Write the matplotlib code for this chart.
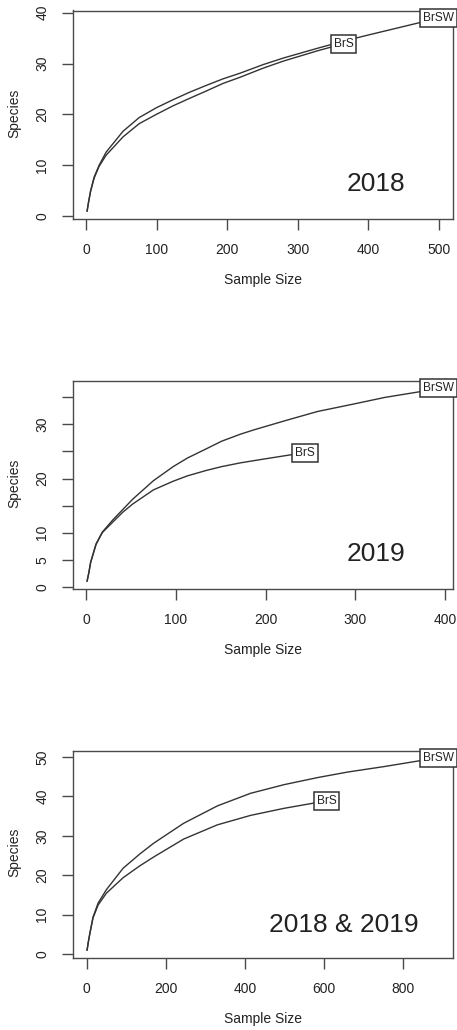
import matplotlib
matplotlib.use("Agg")
import matplotlib.pyplot as plt

plt.rcParams['font.family'] = ['Liberation Sans', 'DejaVu Sans']

# ---------------- data ----------------
# 2018
x18_brsw = [1, 3, 6, 11, 18, 28, 52, 75, 99, 123, 147, 170, 194, 218, 251, 280, 328, 365, 400, 430, 472, 500]
s18_brsw = [1, 2.7, 5.0, 7.7, 10.0, 12.6, 16.7, 19.4, 21.3, 22.9, 24.4, 25.7, 27.0, 28.1, 29.8, 31.1, 33.0, 34.4, 35.6, 36.6, 38.0, 38.9]
x18_brs = [1, 3, 6, 11, 18, 28, 52, 75, 99, 123, 147, 170, 194, 218, 251, 280, 328, 365]
s18_brs = [1, 2.7, 4.9, 7.5, 9.8, 12.0, 15.6, 18.2, 20.0, 21.7, 23.2, 24.6, 26.1, 27.3, 29.1, 30.5, 32.5, 33.9]

# 2019
x19_brsw = [1, 3, 5, 11, 18, 30, 41, 52, 75, 97, 113, 134, 151, 172, 187, 224, 258, 296, 333, 370, 393]
s19_brsw = [1, 2.6, 4.5, 7.9, 10.1, 12.4, 14.3, 16.2, 19.6, 22.2, 23.8, 25.5, 26.9, 28.2, 29.0, 30.8, 32.4, 33.7, 35.0, 36.0, 36.7]
x19_brs = [1, 3, 5, 11, 18, 30, 41, 52, 75, 97, 113, 134, 151, 172, 198, 221, 244]
s19_brs = [1, 2.6, 4.5, 7.8, 10.0, 12.0, 13.8, 15.3, 17.9, 19.5, 20.5, 21.5, 22.2, 22.9, 23.6, 24.2, 24.8]

# 2018 & 2019
xall_brsw = [1, 4, 8, 16, 29, 50, 92, 134, 170, 245, 330, 414, 499, 584, 660, 753, 838, 889]
sall_brsw = [1, 3.0, 5.3, 9.4, 13.0, 16.4, 21.8, 25.4, 28.2, 33.2, 37.6, 40.8, 43.0, 44.8, 46.2, 47.6, 49.0, 49.7]
xall_brs = [1, 4, 8, 16, 29, 50, 92, 134, 170, 245, 330, 414, 499, 567, 606]
sall_brs = [1, 3.0, 5.2, 9.2, 12.5, 15.5, 19.4, 22.4, 24.7, 29.2, 32.8, 35.2, 37.0, 38.2, 38.9]

site_labels = ["BrSW", "BrS"]
panel_titles = ["2018", "2019", "2018 & 2019"]

xticks_list = [[0, 100, 200, 300, 400, 500], [0, 100, 200, 300, 400], [0, 200, 400, 600, 800]]
yticks_list = [[0, 10, 20, 30, 40], [0, 5, 10, 15, 20, 25, 30, 35], [0, 10, 20, 30, 40, 50]]
yticklabels_list = [["0", "10", "20", "30", "40"],
                    ["0", "5", "10", "", "20", "", "30", ""],
                    ["0", "10", "20", "30", "40", "50"]]

panels = [
    ((x18_brsw, s18_brsw), (x18_brs, s18_brs)),
    ((x19_brsw, s19_brsw), (x19_brs, s19_brs)),
    ((xall_brsw, sall_brsw), (xall_brs, sall_brs)),
]

# ---------------- figure ----------------
W, H = 457, 1030
fig = plt.figure(figsize=(W / 100, H / 100), dpi=100)

boxes_px = [(73, 452.7, 10.5, 219), (73, 452.7, 380.5, 589), (73, 452.7, 750.5, 958)]
title_pos = [(0.798, 0.168), (0.798, 0.167), (0.712, 0.159)]

line_col = '#333333'
frame_col = '#4a4a4a'
text_col = '#222222'

for i, (curves, (l, r, t, b)) in enumerate(zip(panels, boxes_px)):
    ax = fig.add_axes([l / W, 1 - b / H, (r - l) / W, (b - t) / H])
    allx = [v for c in curves for v in c[0]]
    ally = [v for c in curves for v in c[1]]
    xr = max(allx) - min(allx)
    yr = max(ally) - min(ally)
    ax.set_xlim(min(allx) - 0.04 * xr, max(allx) + 0.04 * xr)
    ax.set_ylim(min(ally) - 0.04 * yr, max(ally) + 0.04 * yr)

    for (xs, ys), lab in zip(curves, site_labels):
        ax.plot(xs, ys, color=line_col, lw=1.0, solid_joinstyle='round',
                solid_capstyle='round', zorder=3)
        ax.text(xs[-1], ys[-1], lab, ha='center', va='center', fontsize=8.6,
                color=text_col, zorder=6, clip_on=False,
                bbox=dict(boxstyle='square,pad=0.25', fc='white', ec='#333333', lw=1.1))

    ax.set_xticks(xticks_list[i])
    ax.set_yticks(yticks_list[i])
    ax.set_yticklabels(yticklabels_list[i], rotation=90, va='center')
    ax.tick_params(axis='both', direction='out', length=8, width=1.0,
                   color=frame_col, labelsize=10, labelcolor=text_col)
    ax.tick_params(axis='x', pad=9)
    ax.tick_params(axis='y', pad=9)
    for sp in ax.spines.values():
        sp.set_color(frame_col)
        sp.set_linewidth(1.0)

    ax.set_xlabel("Sample Size", fontsize=10, color=text_col)
    ax.set_ylabel("Species", fontsize=10, color=text_col)
    ax.xaxis.set_label_coords(0.5, -(280 - 219) / 208.5)
    ax.xaxis.label.set_va('center')
    ax.yaxis.set_label_coords(-(73 - 14) / 379.7, 0.508)
    ax.yaxis.label.set_va('center')

    ax.text(title_pos[i][0], title_pos[i][1], panel_titles[i], transform=ax.transAxes,
            ha='center', va='center', fontsize=19, color=text_col)

fig.savefig("out.png", dpi=100)
